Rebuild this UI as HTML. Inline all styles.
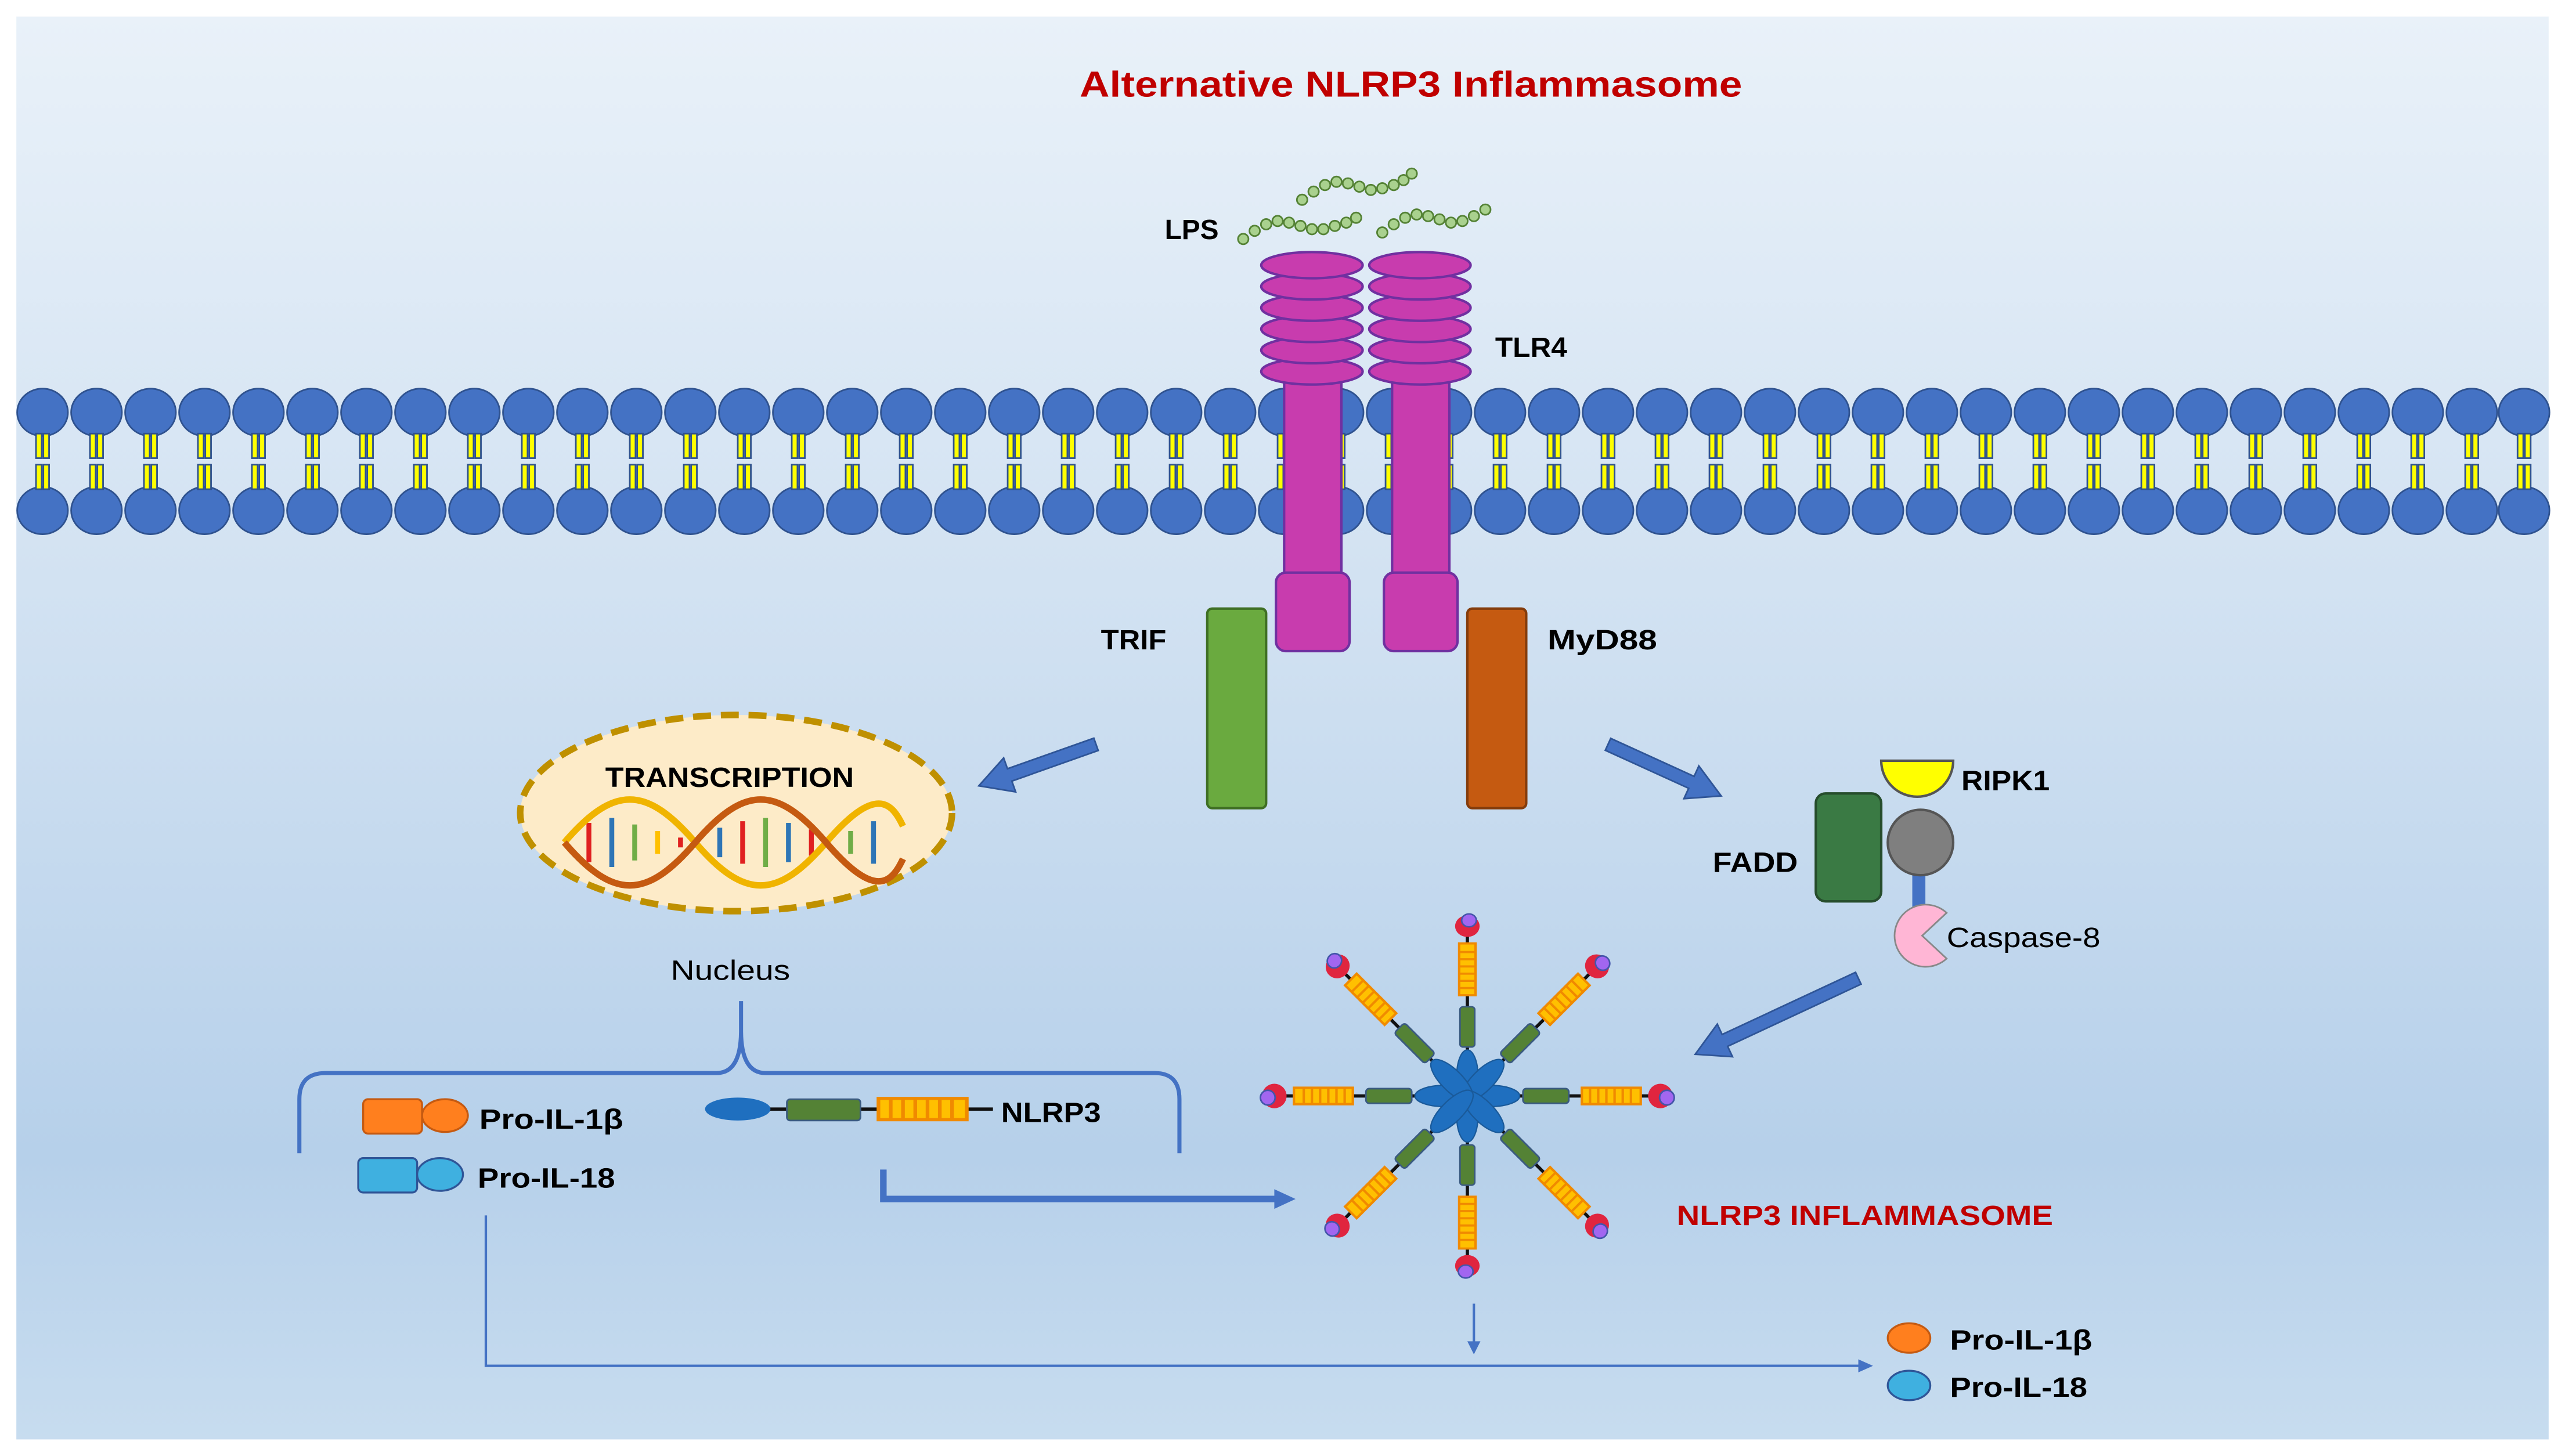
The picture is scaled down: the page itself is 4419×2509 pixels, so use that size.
<!DOCTYPE html>
<html><head><meta charset="utf-8"><style>
html,body{margin:0;padding:0;background:#fff;}
svg{display:block;}
text{font-family:"Liberation Sans",sans-serif;}
</style></head><body>
<svg width="4419" height="2509" viewBox="0 0 1568 890" xmlns="http://www.w3.org/2000/svg">
<defs>
<linearGradient id="bg" x1="0" y1="0" x2="0" y2="1">
<stop offset="0" stop-color="#e9f1f9"/>
<stop offset="0.45" stop-color="#cfe0f1"/>
<stop offset="0.8" stop-color="#b6d0ea"/>
<stop offset="1" stop-color="#c7dcef"/>
</linearGradient>
<g id="lip">
<ellipse cx="0" cy="252" rx="15.5" ry="14.5" fill="#4472c4" stroke="#2f528f" stroke-width="1"/>
<ellipse cx="0" cy="312" rx="15.5" ry="14.5" fill="#4472c4" stroke="#2f528f" stroke-width="1"/>
<rect x="-4" y="265" width="3.5" height="15" fill="#ffff00" stroke="#2f528f" stroke-width="1"/>
<rect x="0.5" y="265" width="3.5" height="15" fill="#ffff00" stroke="#2f528f" stroke-width="1"/>
<rect x="-4" y="284" width="3.5" height="15" fill="#ffff00" stroke="#2f528f" stroke-width="1"/>
<rect x="0.5" y="284" width="3.5" height="15" fill="#ffff00" stroke="#2f528f" stroke-width="1"/>
</g>
<g id="orng">
<rect x="0" y="-5" width="36" height="10" fill="#ffc000" stroke="#f08a00" stroke-width="1.5"/>
<path d="M5-5v10M10-5v10M15-5v10M20-5v10M25-5v10M30-5v10" stroke="#f08a00" stroke-width="1.5"/>
</g>
<g id="arm">
<line x1="0" y1="0" x2="118" y2="0" stroke="#111" stroke-width="2"/>
<ellipse cx="14" cy="0" rx="18" ry="6.5" fill="#1f6fbf" stroke="#1a5a9a" stroke-width="0.8"/>
<rect x="34" y="-4.5" width="28" height="9" rx="2" fill="#548235" stroke="#3a5a80" stroke-width="1"/>
<use href="#orng" x="70"/>
<circle cx="118" cy="0" r="7.5" fill="#e0253f"/>
<circle cx="122" cy="1" r="4.5" fill="#a266f0" stroke="#4455aa" stroke-width="1"/>
</g>
<g id="lpsc">
<circle r="3.2" fill="#a9d18e" stroke="#548235" stroke-width="1"/>
</g>
</defs>
<rect x="0" y="0" width="1568" height="890" fill="#fff"/>
<rect x="10" y="10" width="1548" height="870" fill="url(#bg)"/>

<text x="660" y="59" font-size="22" font-weight="bold" fill="#c00000" textLength="405" lengthAdjust="spacingAndGlyphs">Alternative NLRP3 Inflammasome</text>

<g id="mem">
<use href="#lip" x="26"/><use href="#lip" x="59"/><use href="#lip" x="92"/><use href="#lip" x="125"/><use href="#lip" x="158"/><use href="#lip" x="191"/><use href="#lip" x="224"/><use href="#lip" x="257"/><use href="#lip" x="290"/><use href="#lip" x="323"/><use href="#lip" x="356"/><use href="#lip" x="389"/><use href="#lip" x="422"/><use href="#lip" x="455"/><use href="#lip" x="488"/><use href="#lip" x="521"/><use href="#lip" x="554"/><use href="#lip" x="587"/><use href="#lip" x="620"/><use href="#lip" x="653"/><use href="#lip" x="686"/><use href="#lip" x="719"/><use href="#lip" x="752"/><use href="#lip" x="785"/><use href="#lip" x="818"/><use href="#lip" x="851"/><use href="#lip" x="884"/><use href="#lip" x="917"/><use href="#lip" x="950"/><use href="#lip" x="983"/><use href="#lip" x="1016"/><use href="#lip" x="1049"/><use href="#lip" x="1082"/><use href="#lip" x="1115"/><use href="#lip" x="1148"/><use href="#lip" x="1181"/><use href="#lip" x="1214"/><use href="#lip" x="1247"/><use href="#lip" x="1280"/><use href="#lip" x="1313"/><use href="#lip" x="1346"/><use href="#lip" x="1379"/><use href="#lip" x="1412"/><use href="#lip" x="1445"/><use href="#lip" x="1478"/><use href="#lip" x="1511"/><use href="#lip" x="1543"/>
</g>

<g>
<use href="#lpsc" x="760" y="146"/><use href="#lpsc" x="767" y="141"/><use href="#lpsc" x="774" y="137"/><use href="#lpsc" x="781" y="135"/><use href="#lpsc" x="788" y="136"/><use href="#lpsc" x="795" y="138"/><use href="#lpsc" x="802" y="140"/><use href="#lpsc" x="809" y="140"/><use href="#lpsc" x="816" y="138"/><use href="#lpsc" x="823" y="136"/><use href="#lpsc" x="829" y="133"/>
<use href="#lpsc" x="796" y="122"/><use href="#lpsc" x="803" y="117"/><use href="#lpsc" x="810" y="113"/><use href="#lpsc" x="817" y="111"/><use href="#lpsc" x="824" y="112"/><use href="#lpsc" x="831" y="114"/><use href="#lpsc" x="838" y="116"/><use href="#lpsc" x="845" y="115"/><use href="#lpsc" x="852" y="113"/><use href="#lpsc" x="858" y="110"/><use href="#lpsc" x="863" y="106"/>
<use href="#lpsc" x="845" y="142"/><use href="#lpsc" x="852" y="137"/><use href="#lpsc" x="859" y="133"/><use href="#lpsc" x="866" y="131"/><use href="#lpsc" x="873" y="132"/><use href="#lpsc" x="880" y="134"/><use href="#lpsc" x="887" y="136"/><use href="#lpsc" x="894" y="135"/><use href="#lpsc" x="901" y="132"/><use href="#lpsc" x="908" y="128"/>
</g>
<text x="712" y="146" font-size="17" font-weight="bold" textLength="33" lengthAdjust="spacingAndGlyphs">LPS</text>

<g fill="#c83cae" stroke="#7030a0" stroke-width="1.5">
<rect x="785" y="225" width="35" height="132"/>
<rect x="851" y="225" width="35" height="132"/>
<rect x="780" y="350" width="45" height="48" rx="6"/>
<rect x="846" y="350" width="45" height="48" rx="6"/>
<ellipse cx="802" cy="227" rx="31" ry="8"/><ellipse cx="802" cy="214" rx="31" ry="8"/><ellipse cx="802" cy="201" rx="31" ry="8"/><ellipse cx="802" cy="188" rx="31" ry="8"/><ellipse cx="802" cy="175" rx="31" ry="8"/><ellipse cx="802" cy="162" rx="31" ry="8"/>
<ellipse cx="868" cy="227" rx="31" ry="8"/><ellipse cx="868" cy="214" rx="31" ry="8"/><ellipse cx="868" cy="201" rx="31" ry="8"/><ellipse cx="868" cy="188" rx="31" ry="8"/><ellipse cx="868" cy="175" rx="31" ry="8"/><ellipse cx="868" cy="162" rx="31" ry="8"/>
</g>
<text x="914" y="218" font-size="17" font-weight="bold" textLength="44" lengthAdjust="spacingAndGlyphs">TLR4</text>

<rect x="738" y="372" width="36" height="122" rx="3" fill="#6aaa3f" stroke="#3f6f24" stroke-width="1.5"/>
<rect x="897" y="372" width="36" height="122" rx="3" fill="#c55a11" stroke="#843c0c" stroke-width="1.5"/>
<text x="673" y="397" font-size="17" font-weight="bold" textLength="40" lengthAdjust="spacingAndGlyphs">TRIF</text>
<text x="946" y="397" font-size="17" font-weight="bold" textLength="67" lengthAdjust="spacingAndGlyphs">MyD88</text>

<g fill="#4472c4" stroke="#2f5597" stroke-width="1">
<path d="M0,-4 L56,-4 L56,-11 L76,0 L56,11 L56,4 L0,4 Z" transform="translate(670,455) rotate(160.5)"/>
<path d="M0,-4 L56,-4 L56,-11 L76,0 L56,11 L56,4 L0,4 Z" transform="translate(983,455) rotate(24.5)"/>
<path d="M0,-4 L90,-4 L90,-11 L110,0 L90,11 L90,4 L0,4 Z" transform="translate(1136,598) rotate(155)"/>
</g>

<ellipse cx="450" cy="497" rx="132" ry="60" fill="#fdebc8" stroke="#bf9000" stroke-width="4" stroke-dasharray="11 6"/>
<text x="370" y="481" font-size="17" font-weight="bold" textLength="152" lengthAdjust="spacingAndGlyphs">TRANSCRIPTION</text>
<g stroke-width="3">
<path d="M360,503 L360,527" stroke="#e02020"/><path d="M374,500 L374,530" stroke="#2e75b6"/><path d="M388,504 L388,526" stroke="#70ad47"/><path d="M402,508 L402,522" stroke="#ffc000"/><path d="M416,512 L416,518" stroke="#e02020"/>
<path d="M440,506 L440,524" stroke="#2e75b6"/><path d="M454,502 L454,528" stroke="#e02020"/><path d="M468,500 L468,530" stroke="#70ad47"/><path d="M482,503 L482,527" stroke="#2e75b6"/><path d="M496,507 L496,523" stroke="#e02020"/>
<path d="M520,508 L520,522" stroke="#70ad47"/><path d="M534,502 L534,528" stroke="#2e75b6"/>
</g>
<path d="M345,515 C375,480 395,480 425,515 S475,550 505,515 S545,490 552,505" fill="none" stroke="#f0b400" stroke-width="4"/>
<path d="M345,515 C375,550 395,550 425,515 S475,480 505,515 S545,540 552,525" fill="none" stroke="#c55a11" stroke-width="4"/>
<text x="410" y="599" font-size="17" textLength="73" lengthAdjust="spacingAndGlyphs">Nucleus</text>

<path d="M183,705 L183,672 Q183,656 199,656 L438,656 Q453,656 453,630 L453,612 M453,612 L453,630 Q453,656 468,656 L706,656 Q721,656 721,672 L721,705" fill="none" stroke="#4472c4" stroke-width="2.5"/>

<rect x="222" y="672" width="36" height="21" rx="3" fill="#ff7f1e" stroke="#c55a11" stroke-width="1.2"/>
<ellipse cx="272" cy="682" rx="14" ry="10" fill="#ff7f1e" stroke="#c55a11" stroke-width="1.2"/>
<rect x="219" y="708" width="36" height="21" rx="3" fill="#3fb0e0" stroke="#2f5597" stroke-width="1.2"/>
<ellipse cx="269" cy="718" rx="14" ry="10" fill="#3fb0e0" stroke="#2f5597" stroke-width="1.2"/>
<text x="293" y="690" font-size="17" font-weight="bold" textLength="88" lengthAdjust="spacingAndGlyphs">Pro-IL-1β</text>
<text x="292" y="726" font-size="17" font-weight="bold" textLength="84" lengthAdjust="spacingAndGlyphs">Pro-IL-18</text>

<line x1="460" y1="678" x2="607" y2="678" stroke="#111" stroke-width="2"/>
<ellipse cx="451" cy="678" rx="20" ry="7" fill="#1f6fbf"/>
<rect x="481" y="672" width="45" height="13" rx="2" fill="#548235" stroke="#3a5a80" stroke-width="1"/>
<g transform="translate(537,678) scale(1.5,1.3)"><use href="#orng"/></g>
<text x="612" y="686" font-size="17" font-weight="bold" textLength="61" lengthAdjust="spacingAndGlyphs">NLRP3</text>

<path d="M540,715 L540,733 L780,733" fill="none" stroke="#4472c4" stroke-width="4"/>
<path d="M779,727 L792,733 L779,739 Z" fill="#4472c4"/>

<g transform="translate(897,670)">
<use href="#arm" transform="rotate(0)"/>
<use href="#arm" transform="rotate(180) scale(1,-1)"/>
<use href="#arm" transform="rotate(-90) scale(0.88,1)"/>
<use href="#arm" transform="rotate(90) scale(0.88,1)"/>
<use href="#arm" transform="rotate(-45) scale(0.95,1)"/>
<use href="#arm" transform="rotate(-135) scale(0.95,1)"/>
<use href="#arm" transform="rotate(45) scale(0.95,1)"/>
<use href="#arm" transform="rotate(135) scale(0.95,1)"/>
</g>
<text x="1025" y="749" font-size="17" font-weight="bold" fill="#c00000" textLength="230" lengthAdjust="spacingAndGlyphs">NLRP3 INFLAMMASOME</text>

<rect x="1110" y="485" width="40" height="66" rx="6" fill="#3a7a44" stroke="#264d2c" stroke-width="1.5"/>
<path d="M1150,465 L1194,465 A22,22 0 0 1 1150,465 Z" fill="#ffff00" stroke="#555" stroke-width="1.5"/>
<rect x="1169" y="530" width="8" height="26" fill="#4472c4"/>
<circle cx="1174" cy="515" r="20" fill="#7f7f7f" stroke="#555" stroke-width="1.5"/>
<path d="M1175,572 L1190,558 A19,19 0 1 0 1190,586 Z" fill="#ffb6d5" stroke="#888" stroke-width="1"/>
<text x="1199" y="483" font-size="17" font-weight="bold" textLength="54" lengthAdjust="spacingAndGlyphs">RIPK1</text>
<text x="1047" y="533" font-size="17" font-weight="bold" textLength="52" lengthAdjust="spacingAndGlyphs">FADD</text>
<text x="1190" y="579" font-size="17" textLength="94" lengthAdjust="spacingAndGlyphs">Caspase-8</text>

<path d="M297,743 L297,835 L1137,835" fill="none" stroke="#4472c4" stroke-width="1.5"/>
<path d="M1136,831 L1145,835 L1136,839 Z" fill="#4472c4"/>
<line x1="901" y1="797" x2="901" y2="822" stroke="#4472c4" stroke-width="1.5"/>
<path d="M897,820 L901,828 L905,820 Z" fill="#4472c4"/>
<ellipse cx="1167" cy="818" rx="13" ry="9" fill="#ff7f1e" stroke="#c55a11" stroke-width="1.2"/>
<ellipse cx="1167" cy="847" rx="13" ry="9" fill="#3fb0e0" stroke="#2f5597" stroke-width="1.2"/>
<text x="1192" y="825" font-size="17" font-weight="bold" textLength="87" lengthAdjust="spacingAndGlyphs">Pro-IL-1β</text>
<text x="1192" y="854" font-size="17" font-weight="bold" textLength="84" lengthAdjust="spacingAndGlyphs">Pro-IL-18</text>
</svg>
</body></html>
